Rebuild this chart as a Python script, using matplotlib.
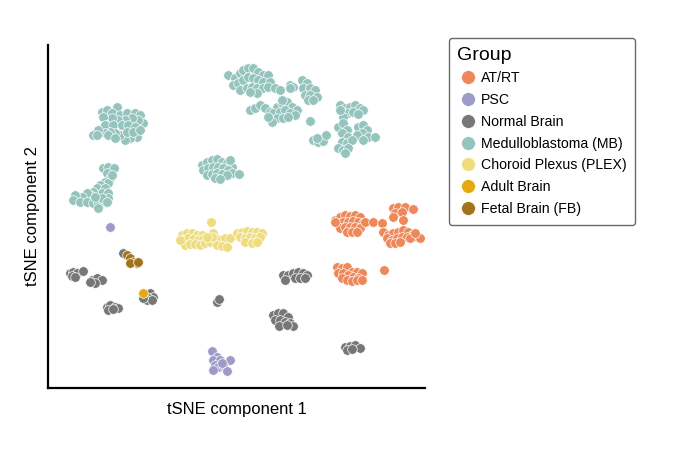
import matplotlib.pyplot as plt
from matplotlib.lines import Line2D

plt.rcParams['font.family'] = ['Liberation Sans', 'DejaVu Sans']

# tSNE embedding (arbitrary units)
normal_x = [70, 73, 77, 83, 72, 75, 92, 97, 102, 95, 90, 123, 145, 150, 153, 148, 147, 152, 143,
            107, 110, 115, 118, 108, 113, 283, 288, 293, 298, 303, 307, 285, 295, 300, 305,
            217, 219, 273, 278, 283, 288, 275, 280, 285, 290, 293, 279, 287,
            345, 350, 355, 360, 347, 352]
normal_y = [273, 272, 273, 271, 276, 277, 280, 278, 280, 283, 282, 253, 295, 293, 297, 298, 300, 300, 298,
            307, 305, 307, 308, 310, 309, 275, 275, 273, 272, 273, 275, 280, 278, 278, 278,
            302, 299, 315, 313, 313, 317, 320, 320, 322, 323, 326, 326, 325,
            347, 346, 345, 348, 350, 349]

mb_x = [102, 107, 117, 112, 120, 127, 135, 140, 143, 138, 132, 125, 118, 112, 103, 105, 113, 122,
        128, 135, 137, 130, 125, 120, 115, 110, 105, 98, 93, 97, 108, 115, 127, 133, 140,
        103, 108, 114, 107, 110, 105, 108, 100, 97, 105, 102, 108, 93, 90, 87, 82, 75, 73, 80,
        87, 93, 98, 105, 108, 98, 102, 95, 112, 107,
        202, 207, 212, 217, 222, 227, 232, 203, 208, 213, 218, 223, 228, 232, 207, 212, 217,
        222, 227, 215, 220, 239, 230,
        228, 235, 240, 243, 248, 253, 258, 263, 268, 233, 238, 243, 248, 253, 258, 263, 270,
        240, 247, 252, 257, 263, 268, 275, 280, 257, 250,
        302, 307, 303, 310, 315, 305, 310, 317, 308, 313, 290, 293, 290,
        250, 255, 260, 265, 270, 277, 282, 287, 292, 297, 273, 280, 285, 290, 295, 277, 283,
        288, 272, 268, 282, 310,
        340, 345, 350, 355, 360, 363, 348, 353, 358, 343, 340,
        338, 343, 347, 342, 348, 358, 363, 367, 362, 357, 368, 375, 363, 342, 347, 352, 338,
        343, 348, 345, 313, 318, 323, 326, 317]
mb_y = [112, 110, 107, 113, 115, 113, 113, 115, 123, 120, 118, 120, 120, 118, 117, 125, 125, 125,
        125, 127, 137, 138, 140, 135, 133, 132, 133, 130, 135, 135, 135, 138, 132, 132, 130,
        168, 167, 168, 173, 178, 182, 183, 185, 188, 188, 193, 193, 192, 195, 193, 197, 195, 200, 202,
        202, 203, 203, 202, 198, 208, 198, 197, 175, 202,
        165, 162, 160, 159, 162, 163, 167, 170, 168, 167, 167, 168, 170, 173, 175, 174, 173,
        174, 175, 178, 179, 174, 160,
        75, 78, 73, 70, 68, 68, 72, 75, 75, 85, 83, 80, 77, 78, 80, 82, 82,
        90, 88, 87, 88, 88, 87, 88, 90, 93, 92,
        80, 83, 88, 88, 90, 95, 95, 97, 100, 100, 85, 87, 88,
        110, 108, 105, 108, 112, 107, 103, 102, 107, 110, 113, 112, 110, 113, 115, 118, 118,
        117, 122, 117, 100, 121,
        105, 108, 107, 105, 108, 110, 113, 112, 114, 117, 110,
        127, 123, 130, 133, 137, 127, 125, 130, 133, 135, 137, 137, 140, 142, 143, 140, 148,
        150, 148, 153, 140, 142, 141, 135, 138]

plex_x = [211, 182, 187, 192, 197, 202, 183, 188, 193, 198, 203, 185, 190, 195, 200, 205, 210,
          213, 215, 220, 225, 230, 217, 222, 227, 212, 207, 180,
          237, 242, 247, 252, 257, 262, 240, 245, 250, 255, 260, 245, 252, 257]
plex_y = [222, 235, 233, 233, 235, 235, 240, 238, 239, 240, 239, 245, 244, 244, 245, 243, 242,
          233, 238, 240, 238, 238, 245, 246, 247, 237, 237, 240,
          233, 232, 231, 232, 232, 233, 237, 238, 237, 238, 237, 242, 243, 242]

atrt_x = [335, 340, 345, 350, 355, 360, 338, 343, 348, 353, 358, 363, 340, 345, 350, 355, 360,
          347, 352, 357, 335, 365, 373, 382,
          393, 398, 405, 413, 395, 402, 393, 403,
          383, 388, 393, 398, 403, 408, 412, 417, 420, 387, 392, 397, 402, 407, 390, 395, 400, 410, 415,
          337, 342, 347, 352, 357, 362, 338, 343, 348, 353, 358, 342, 347, 352, 357, 362, 384]
atrt_y = [220, 217, 215, 216, 215, 217, 223, 222, 222, 221, 222, 223, 228, 227, 227, 227, 228,
          232, 232, 232, 222, 222, 222, 223,
          208, 207, 207, 209, 213, 212, 217, 220,
          232, 235, 233, 232, 230, 232, 235, 237, 238, 238, 240, 238, 237, 237, 243, 243, 242, 238, 233,
          267, 268, 267, 272, 272, 273, 273, 273, 275, 277, 278, 278, 280, 281, 280, 280, 270]

psc_x = [110, 212, 217, 213, 220, 230, 215, 218, 223, 213, 227, 222]
psc_y = [227, 351, 357, 360, 360, 360, 365, 367, 365, 370, 371, 363]

adult_x = [143]
adult_y = [293]

fetal_x = [127, 130, 133, 137, 130, 138]
fetal_y = [255, 258, 262, 263, 263, 262]

groups = ['AT/RT', 'PSC', 'Normal Brain', 'Medulloblastoma (MB)', 'Choroid Plexus (PLEX)',
          'Adult Brain', 'Fetal Brain (FB)']
colors = ['#EE8759', '#9E9BC9', '#777777', '#94C4BD', '#EDDD7E', '#E3A90E', '#A3721D']
points = [(atrt_x, atrt_y), (psc_x, psc_y), (normal_x, normal_y), (mb_x, mb_y),
          (plex_x, plex_y), (adult_x, adult_y), (fetal_x, fetal_y)]

fig = plt.figure(figsize=(6.8, 4.68), dpi=100)
ax = fig.add_axes([48 / 680, 80 / 468, 377 / 680, 343 / 468])

draw_order = [3, 4, 0, 1, 2, 6, 5]
for i in draw_order:
    xs, ys = points[i]
    ax.scatter(xs, ys, s=48, color=colors[i], edgecolors='white', linewidths=0.5, zorder=2)

ax.set_xlim(48, 425)
ax.set_ylim(388, 45)
ax.set_xticks([])
ax.set_yticks([])
for side in ['top', 'right']:
    ax.spines[side].set_visible(False)
for side in ['left', 'bottom']:
    ax.spines[side].set_linewidth(1.6)
ax.set_xlabel('tSNE component 1', fontsize=12, labelpad=10)
ax.set_ylabel('tSNE component 2', fontsize=12, labelpad=6)

handles = [Line2D([], [], marker='o', linestyle='none', markersize=10,
                  markerfacecolor=c, markeredgecolor='white', markeredgewidth=0.5)
           for c in colors]
leg = fig.legend(handles, groups, title='Group', loc='upper left',
                 bbox_to_anchor=(449 / 680, 1 - 38 / 468), borderaxespad=0,
                 fontsize=10.2, title_fontsize=14, alignment='left',
                 labelspacing=0.55, handletextpad=0.15, handlelength=1.5,
                 frameon=True, fancybox=True, borderpad=0.6)
leg.get_frame().set_edgecolor('#444444')
leg.get_frame().set_linewidth(1.0)

fig.savefig('out.png', dpi=100)
